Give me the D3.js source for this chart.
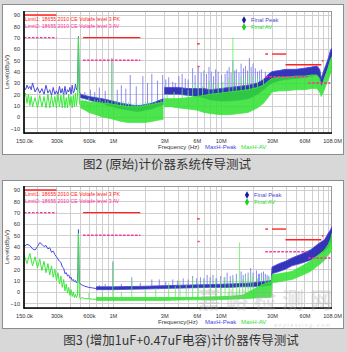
<!DOCTYPE html>
<html><head><meta charset="utf-8">
<script src="https://cdn.jsdelivr.net/npm/d3@7"></script>
<style>html,body{margin:0;padding:0;background:#d8d8d8;}svg{display:block;}</style>
</head><body>
<svg id="c" width="347" height="352"></svg>
<script>
// ---------- axis ticks ----------
const xTickVals = [0.15,0.3,0.6,1,3,6,10,30,60,108];
const xTickLabels = ["150.0k","300k","600k","1M","3M","6M","10M","30M","60M","108.0M"];
const yTickVals = [-10,0,10,20,30,40,50,60,70,80,90];

// ---------- limits (MHz start, MHz end, dBµV) ----------
const limPkStart = [0.15, 0.53, 6.05, 26, 30, 40, 87];
const limPkEnd   = [0.30, 1.80, 6.40, 27.5, 40.5, 86, 90];
const limPkLevel = [90, 70, 64.5, 55.5, 55.5, 46, 49.5];
const limAvStart = [0.15, 0.53, 6.1, 26, 65];
const limAvEnd   = [0.30, 1.80, 6.4, 64, 104];
const limAvLevel = [70, 50, 44.5, 35.5, 30];

// ---------- chart 1 (original) ----------
const c1LowF = [0.15,0.155,0.16,0.165,0.17,0.175,0.18,0.19,0.2,0.21,0.22,0.23,0.24,0.25,0.26,0.27,0.28,0.29,0.3,0.31,0.32,0.33,0.34,0.35,0.36,0.37,0.38,0.39,0.4,0.41,0.42,0.43,0.44,0.45,0.46,0.47,0.475,0.48,0.485,0.49,0.5];
const c1PkLowV = [26,24,28,25,27,24,30,22,26,21,25,20,28,21,24,19,26,20,23,20,27,21,25,19,27,20,24,22,26,20,28,21,23,29,24,26,45,71,45,22,20];
const c1AvLowV = [18,21,12,20,10,18,9,17,8,19,9,18,8,20,8,19,9,18,8,20,9,19,8,20,8,17,8,20,10,18,8,19,9,21,10,18,40,70,40,12,10];
const c1MidF = [0.5,0.55,0.6,0.7,0.8,0.9,1.0,1.2,1.4,1.6,1.8,2.0,2.3,2.6,2.95];
const c1PkMidHi = [20,19,18,17,16,15,14,12,11,10,10,11,12,14,16];
const c1PkMidLo = [17,16,15,13,12,10,9,7,6,5,5,6,7,9,11];
const c1AvMidHi = [14,14,13,13,12,12,11,10,9,9,9,10,11,12,13];
const c1AvMidLo = [8,6,4,2,0,-1,-2,-4,-5,-5,-5,-5,-4,-3,-2];
const c1HfF = [3.0,3.5,4,5,6,7,8,10,12,15,18,20,22,25,28,30,35,40,50,60,70,78,83,86,90,95,100,104,108];
const c1PkHfHi = [26,26,26,25,25,25,24,25,26,27,28,29,30,33,38,40,41,42,42,43,44,45,42,34,40,46,52,58,61];
const c1PkHfLo = [20,20,20,19,18,17,15,14,14,15,16,18,20,24,28,30,32,33,34,35,36,37,33,27,32,38,44,50,54];
const c1AvHfHi = [16,16,16,17,18,19,20,21,22,23,24,25,26,28,32,34,35,35,36,36,37,37,34,25,32,38,44,50,53];
const c1AvHfLo = [9,9,8,7,6,4,3,2,2,3,4,6,8,12,18,22,23,23,24,24,25,25,22,18,22,28,33,38,40];
const c1PkSpF = [0.55,0.62,0.68,0.75,0.85,0.98,1.1,1.2,1.32,1.45,1.65,1.9,2.1,2.3,2.6,2.9,3.1,3.3,3.6,3.8,4.1,4.4,4.7,5.0,5.5,5.8,6.2,6.6,7.0,7.4,7.8,8.2,8.6,9.0,9.5,10.2,11,11.5,12,12.5,13,13.5,14,14.8,15.5,16.3,17,17.8,18.5,19.2,20,21,22,23,24,26];
const c1PkSpV = [22,24,22,26,23,52,24,28,25,37,27,36,30,38,32,37,33,35,31,30,36,38,34,33,43,37,44,39,41,38,44,40,36,42,40,37,38,41,44,39,50,41,42,39,47,43,45,41,52,44,47,43,40,41,42,40];
const c1AvSpF = [0.52,0.56,0.6,0.64,0.68,0.72,0.76,0.8,0.85,0.9,0.98,1.05,1.1,1.18,1.25,1.32,1.4,1.5,1.6,1.7,1.8,1.9,2.0,2.1,2.2,2.35,2.5,2.65,2.8,3.2,3.7,4.4,5.0,5.5,6.2,6.8,7.8,8.5,9.5,10.5,12,13,14,15.5,17,18.5,20,22,25];
const c1AvSpV = [16,15,17,14,16,15,16,14,15,14,50,14,15,13,14,12,13,12,12,11,12,11,13,12,13,12,14,13,15,20,22,25,24,30,28,27,32,29,30,31,35,70,33,36,34,40,36,35,34];

// ---------- chart 2 (with 1uF + 0.47uF) ----------
const c2LowF = [0.15,0.16,0.17,0.18,0.19,0.2,0.21,0.22,0.23,0.24,0.25,0.26,0.27,0.28,0.29,0.3,0.31,0.32,0.33,0.34,0.35,0.36,0.37,0.38,0.39,0.4,0.41,0.42,0.43,0.44,0.45,0.46,0.47,0.475,0.48,0.485,0.49,0.5,0.52,0.55,0.6,0.65,0.7];
const c2PkLowV = [40,42,41,38,37,40,43.5,42,40,41,38,39,35,36,33,31,29,27,26,22,21,16,17,14,15,12,13,10,11,9,10,8,9,20,55,25,8,7,6,5,4,3.5,3];
const c2AvLowV = [33,25,34,23,31,21,29,19,27,17,25,15,23,13,20,10,17,7,14,4,11,1,7,-1,4,-3,2,-4,0,-5,-2,-5,-3,15,52,20,-5,-6,-5,-6,-6,-6.5,-6.5];
const c2HfF = [0.7,1,2,3,5,8,12,16,20,24,27,29.5,30,35,40,46,55,68,82,92,100,105,108];
const c2PkHfHi = [4.5,4.5,5,5.5,6,6.5,7,7.5,8,9,9.5,10,22,25,27,30,33,37,43,46,52,55,58];
const c2PkHfLo = [2,2,2.5,3,3.5,4,4,4.5,4.5,5,5.5,6,16,18,20,23,25,28,33,36,40,44,47];
const c2AvHfHi = [-5,-5,-5,-5,-5,-4.5,-4,-3,2,6,8,9,15,16,17,18,22,27,33,37,42,47,52];
const c2AvHfLo = [-7.5,-7.5,-7.5,-7.5,-7,-7,-6.5,-6,-5.5,-5,-5,-4.5,8,9,10,11,14,18,24,28,33,35,38];
const c2PkSpF = [0.75,0.85,1.0,1.2,1.5,1.8,2.3,2.7,3.1,3.6,4.0,4.5,5.0,5.5,6.0,6.5,7.0,7.5,8.0,8.5,9.2,10,10.8,11.5,12.3,13,14,15.5,16.2,17,18,19,20,21.5,22.5,23,24,25,26,27,28];
const c2PkSpV = [6,7,27,7,13,8,11,11,9,11,10,12,11,14,12,13,12,15,13,15,12,14,13,17,14,15,16,18,15,16,17,21,17,19,16,16,17,18,16,15,14];
const c2AvSpF = [0.6,0.8,1.0,1.2,1.5,2.0,2.5,3.3,3.8,4.2,4.8,5.5,6.2,7,8,9,10,11,12,13,14,15,16,17,18,19,20,22,24,26,28];
const c2AvSpV = [-1,0,26,0,10,2,3,8,5,10,7,12,8,10,9,12,10,13,9,12,10,43.5,11,14,12,16,13,12,14,12,13];

const captions = ["图2 (原始)计价器系统传导测试", "图3 (增加1uF+0.47uF电容)计价器传导测试"];

// ---------- drawing ----------
const FONT = "'Liberation Sans', Arial, sans-serif";
const svg = d3.select('#c');
const BLUE = '#2a2ab4', BLUE_L = '#4a4ae0', BLUE_S = '#7070ec';
const GREEN = '#2ee02e', GREEN_L = '#3ae83a', GREEN_S = '#5cf05c';
const zip = (f, a, b) => f.map((v, i) => ({f: v, hi: a[i], lo: b ? b[i] : a[i]}));

function panel(y0, h) {
  svg.append('rect').attr('x', 2.5).attr('y', y0 + 0.5).attr('width', 341).attr('height', h)
    .attr('fill', '#fff').attr('stroke', '#8c8c8c');
}

function drawChart(cfg, idx) {
  const top = cfg.top, bottom = top + 122, left = 24, right = 332;
  const x = d3.scaleLog().domain([0.15, 108]).range([left, right]);
  const y = d3.scaleLinear().domain([-14.2, 93.5]).range([bottom, top]);
  const g = svg.append('g');
  const clipId = 'clip' + idx;
  svg.append('clipPath').attr('id', clipId).append('rect')
    .attr('x', left).attr('y', top).attr('width', right - left).attr('height', bottom - top);

  // grid
  const grid = g.append('g').attr('stroke', '#cfcfcf').attr('stroke-width', 1);
  grid.selectAll('line.v').data(x.ticks().filter(t => t > 0.15 && t < 108)).join('line')
    .attr('x1', d => Math.round(x(d)) + 0.5).attr('x2', d => Math.round(x(d)) + 0.5)
    .attr('y1', top).attr('y2', bottom);
  grid.selectAll('line.h').data(yTickVals).join('line')
    .attr('x1', left).attr('x2', right)
    .attr('y1', d => Math.round(y(d)) + 0.5).attr('y2', d => Math.round(y(d)) + 0.5);
  g.append('rect').attr('x', left).attr('y', top + 0.5).attr('width', right - left - 0.5).attr('height', bottom - top)
    .attr('fill', 'none').attr('stroke', '#9a9a9a');

  const plot = g.append('g').attr('clip-path', `url(#${clipId})`);
  const area = d3.area().x(d => x(d.f)).y0(d => y(d.lo)).y1(d => y(d.hi));
  const lineHi = d3.line().x(d => x(d.f)).y(d => y(d.hi));
  const lineLo = d3.line().x(d => x(d.f)).y(d => y(d.lo));

  function series(s, fill, edge, spikeCol, bandOpacity) {
    const segs = [];
    s.bands.forEach(b => {
      const d = zip(b.f, b.hi, b.lo);
      segs.push(d);
      plot.append('path').attr('d', area(d)).attr('fill', fill).attr('opacity', bandOpacity);
    });
    const bis = d3.bisector(d => d.f).left;
    const baseAt = f => {
      for (const d of segs.concat([zip(s.low.f, s.low.v)])) {
        if (f >= d[0].f && f <= d[d.length - 1].f) {
          const i = Math.max(1, bis(d, f));
          const a = d[i - 1], b = d[i];
          const t = (Math.log(f) - Math.log(a.f)) / (Math.log(b.f) - Math.log(a.f) || 1);
          return a.hi + (b.hi - a.hi) * t;
        }
      }
      return -14;
    };
    plot.selectAll(null).data(s.spF).join('line')
      .attr('x1', d => x(d)).attr('x2', d => x(d))
      .attr('y1', d => y(baseAt(d))).attr('y2', (d, i) => y(s.spV[i]))
      .attr('stroke', spikeCol).attr('stroke-width', 0.8);
    s.bands.forEach(b => {
      const d = zip(b.f, b.hi, b.lo);
      plot.append('path').attr('d', lineHi(d)).attr('fill', 'none').attr('stroke', edge).attr('stroke-width', 0.9);
      plot.append('path').attr('d', lineLo(d)).attr('fill', 'none').attr('stroke', edge).attr('stroke-width', 0.7);
    });
    plot.append('path').attr('d', lineHi(zip(s.low.f, s.low.v))).attr('fill', 'none')
      .attr('stroke', edge).attr('stroke-width', 1);
  }
  series(cfg.peak, BLUE, BLUE_L, BLUE_S, 0.95);
  series(cfg.av, GREEN, GREEN_L, GREEN_S, 0.85);

  // limits
  const lim = g.append('g');
  lim.selectAll(null).data(limPkStart).join('line')
    .attr('x1', d => x(d)).attr('x2', (d, i) => x(limPkEnd[i]))
    .attr('y1', (d, i) => y(limPkLevel[i])).attr('y2', (d, i) => y(limPkLevel[i]))
    .attr('stroke', '#ff2222').attr('stroke-width', 1.4);
  lim.selectAll(null).data(limAvStart).join('line')
    .attr('x1', d => x(d)).attr('x2', (d, i) => x(limAvEnd[i]))
    .attr('y1', (d, i) => y(limAvLevel[i])).attr('y2', (d, i) => y(limAvLevel[i]))
    .attr('stroke', '#ff2f9a').attr('stroke-width', 1.4).attr('stroke-dasharray', '2.5,1.5');

  // axes
  const ax = g.append('g').attr('transform', `translate(0,${bottom})`)
    .call(d3.axisBottom(x).tickValues(xTickVals).tickFormat((d, i) => xTickLabels[i]).tickSize(0).tickPadding(6));
  ax.select('.domain').remove();
  ax.selectAll('text').attr('font-family', FONT).attr('font-size', 5.6).attr('fill', '#333');
  const ay = g.append('g').attr('transform', `translate(${left},0)`)
    .call(d3.axisLeft(y).tickValues(yTickVals).tickSize(0).tickPadding(4));
  ay.select('.domain').remove();
  ay.selectAll('text').attr('font-family', FONT).attr('font-size', 5.6).attr('fill', '#333');
  g.append('line').attr('x1', left).attr('x2', left).attr('y1', top).attr('y2', bottom + 0.8)
    .attr('stroke', '#000').attr('stroke-width', 1.6);
  g.append('line').attr('x1', left).attr('x2', right).attr('y1', bottom).attr('y2', bottom)
    .attr('stroke', '#000').attr('stroke-width', 1.6);

  // y label
  g.append('text').attr('transform', `translate(8.5,${(top + bottom) / 2}) rotate(-90)`)
    .attr('text-anchor', 'middle').attr('font-family', FONT).attr('font-size', 6.2).attr('fill', '#333')
    .text('Level(dBµV)');

  // x label + trace names
  const xl = g.append('text').attr('y', bottom + 16).attr('font-family', FONT).attr('font-size', 6);
  xl.append('tspan').attr('x', 158).attr('fill', '#333').text(cfg.xTitle);
  xl.append('tspan').attr('x', 205).attr('fill', '#4848e0').text('MaxH-Peak');
  xl.append('tspan').attr('x', 241).attr('fill', '#2ee02e').text('MaxH-AV');

  // limit legend
  g.append('text').attr('x', 25).attr('y', top + 10).attr('font-family', FONT).attr('font-size', 5.2)
    .attr('fill', '#ff2222').text('Limit1:   18655 2010 CE Voltafe level 3 PK');
  g.append('text').attr('x', 25).attr('y', top + 16.5).attr('font-family', FONT).attr('font-size', 5.2)
    .attr('fill', '#ff2f9a').text('Limit2:   18655 2010 CE Voltafe level 3 AV');

  // final legend
  const sym = d3.symbol(d3.symbolDiamond).size(16);
  const lg = g.append('g').attr('font-family', FONT).attr('font-size', 5.8);
  lg.append('path').attr('d', sym()).attr('transform', `translate(${cfg.legX},${top + 9})`).attr('fill', '#1a1aa0');
  lg.append('text').attr('x', cfg.legX + 7).attr('y', top + 11).attr('fill', '#4848d8').text('Final Peak');
  lg.append('path').attr('d', sym()).attr('transform', `translate(${cfg.legX},${top + 16})`).attr('fill', '#22cc22');
  lg.append('text').attr('x', cfg.legX + 7).attr('y', top + 18).attr('fill', '#2ee02e').text('Final AV');
}

const charts = [
  { top: 11, legX: 244, xTitle: 'Frequency (Hz)',
    peak: { low: {f: c1LowF, v: c1PkLowV}, bands: [{f: c1MidF, hi: c1PkMidHi, lo: c1PkMidLo}, {f: c1HfF, hi: c1PkHfHi, lo: c1PkHfLo}], spF: c1PkSpF, spV: c1PkSpV },
    av:   { low: {f: c1LowF, v: c1AvLowV}, bands: [{f: c1MidF, hi: c1AvMidHi, lo: c1AvMidLo}, {f: c1HfF, hi: c1AvHfHi, lo: c1AvHfLo}], spF: c1AvSpF, spV: c1AvSpV } },
  { top: 186, legX: 247, xTitle: 'Frequency(Hz)',
    peak: { low: {f: c2LowF, v: c2PkLowV}, bands: [{f: c2HfF, hi: c2PkHfHi, lo: c2PkHfLo}], spF: c2PkSpF, spV: c2PkSpV },
    av:   { low: {f: c2LowF, v: c2AvLowV}, bands: [{f: c2HfF, hi: c2AvHfHi, lo: c2AvHfLo}], spF: c2AvSpF, spV: c2AvSpV } }
];

panel(4, 150);
panel(180, 148);
charts.forEach(drawChart);

// captions
svg.append('text').attr('x', 167).attr('y', 168.5).attr('text-anchor', 'middle')
  .attr('font-family', "'Noto Sans CJK SC', sans-serif").attr('font-size', 12.5).attr('fill', '#333').text(captions[0]);
svg.append('text').attr('x', 181).attr('y', 344.5).attr('text-anchor', 'middle')
  .attr('font-family', "'Noto Sans CJK SC', sans-serif").attr('font-size', 12.5).attr('fill', '#333').text(captions[1]);

// watermark (kept clear of the axis texts)
svg.append('text').attr('x', 198).attr('y', 308).attr('textLength', 134)
  .attr('font-family', "'Noto Sans CJK SC', sans-serif").attr('font-weight', 'bold').attr('font-size', 22)
  .attr('fill', '#a8a8a8').attr('opacity', 0.3).text('嘉峪检测网');
svg.append('text').attr('x', 274).attr('y', 327).attr('textLength', 56)
  .attr('font-family', FONT).attr('font-style', 'italic').attr('font-size', 5.5)
  .attr('fill', '#a8a8a8').attr('opacity', 0.4).text('anytesting.com');
</script>
</body></html>
